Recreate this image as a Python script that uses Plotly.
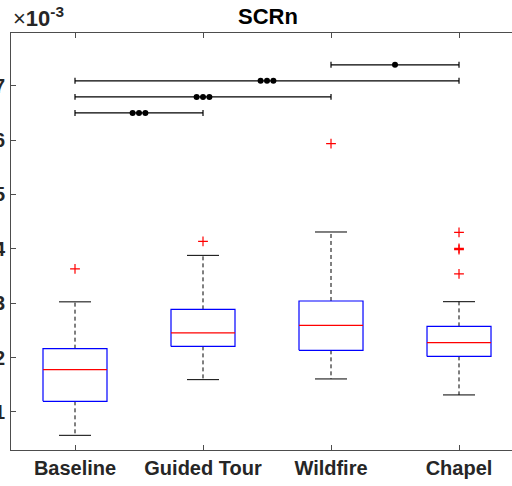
import plotly.graph_objects as go

# ---- data (values in units of 1e-3) ----
categories = ["Baseline", "Guided Tour", "Wildfire", "Chapel"]
q1 = [1.195, 2.206, 2.133, 2.022]
median = [1.778, 2.453, 2.592, 2.274]
q3 = [2.164, 2.887, 3.041, 2.574]
lower_whisker = [0.570, 1.594, 1.607, 1.313]
upper_whisker = [3.025, 3.880, 4.310, 3.028]
outliers = [[3.632], [4.137], [5.934], [4.303, 4.009, 3.985, 3.538]]

sig_pairs = [(1, 2), (1, 3), (1, 4), (3, 4)]
sig_stars = [3, 3, 3, 1]

y_ticks = [1, 2, 3, 4, 5, 6, 7]

FONT = "Liberation Sans, Arial, Helvetica, sans-serif"
TXT = "#262626"

fig = go.Figure()
xs = list(range(1, len(categories) + 1))
hw = 0.25   # box half width
cw = 0.125  # cap half width

for i, x in enumerate(xs):
    fig.add_trace(go.Scatter(x=[x, x, None, x, x], y=[q3[i], upper_whisker[i], None, q1[i], lower_whisker[i]],
                             mode="lines", line=dict(color="black", width=1, dash="4px,3px"),
                             hoverinfo="skip", showlegend=False))
    fig.add_trace(go.Scatter(x=[x - cw, x + cw, None, x - cw, x + cw],
                             y=[upper_whisker[i], upper_whisker[i], None, lower_whisker[i], lower_whisker[i]],
                             mode="lines", line=dict(color="black", width=1),
                             hoverinfo="skip", showlegend=False))
    fig.add_trace(go.Scatter(x=[x - hw, x + hw, x + hw, x - hw, x - hw],
                             y=[q1[i], q1[i], q3[i], q3[i], q1[i]],
                             mode="lines", line=dict(color="#0000ff", width=1.2),
                             hoverinfo="skip", showlegend=False))
    fig.add_trace(go.Scatter(x=[x - hw, x + hw], y=[median[i], median[i]],
                             mode="lines", line=dict(color="#ff0000", width=1.2),
                             hoverinfo="skip", showlegend=False))
    fig.add_trace(go.Scatter(x=[x] * len(outliers[i]), y=outliers[i], mode="markers",
                             marker=dict(symbol="cross-thin", size=7, line=dict(color="#ff0000", width=1.2)),
                             hoverinfo="skip", showlegend=False))

# significance bars
base, step, cap = 6.5, 0.295, 0.055
for k, ((a, b), n) in enumerate(zip(sig_pairs, sig_stars)):
    y = base + step * k
    fig.add_trace(go.Scatter(x=[a, b, None, a, a, None, b, b], y=[y, y, None, y - cap, y + cap, None, y - cap, y + cap],
                             mode="lines", line=dict(color="black", width=1.2),
                             hoverinfo="skip", showlegend=False))
    c = (a + b) / 2
    dx = 0.05
    dots = [c + dx * (j - (n - 1) / 2) for j in range(n)]
    fig.add_trace(go.Scatter(x=dots, y=[y] * n, mode="markers",
                             marker=dict(symbol="circle", size=6, color="black"),
                             hoverinfo="skip", showlegend=False))

axis_common = dict(showline=True, linecolor="#4d4d4d", linewidth=1,
                   ticks="inside", ticklen=5, tickcolor="#4d4d4d", showgrid=False, zeroline=False,
                   automargin=False,
                   tickfont=dict(family=FONT, size=20, color=TXT, weight="bold"))

fig.update_layout(
    width=512, height=486,
    margin=dict(l=11, r=0, t=33, b=36),
    plot_bgcolor="white", paper_bgcolor="white",
    xaxis=dict(range=[0.5, 4.414], tickvals=xs, ticktext=categories, mirror="ticks", **axis_common),
    yaxis=dict(range=[0.3, 7.97], tickvals=y_ticks, ticktext=[str(t) for t in y_ticks],
               ticklabelstandoff=1, mirror=False, **axis_common),
    annotations=[
        dict(text="<b>SCRn</b>", xref="paper", yref="paper", x=(268 - 11) / 501, y=1,
             xanchor="center", yanchor="bottom", yshift=2, showarrow=False,
             font=dict(family=FONT, size=22, color="black")),
        dict(text="×<b>10</b><sup><b>-3</b></sup>", xref="paper", yref="paper", x=0, y=1,
             xanchor="left", yanchor="bottom", yshift=0, xshift=0, showarrow=False,
             font=dict(family=FONT, size=22, color=TXT)),
    ],
)

fig.write_html("out.html")
